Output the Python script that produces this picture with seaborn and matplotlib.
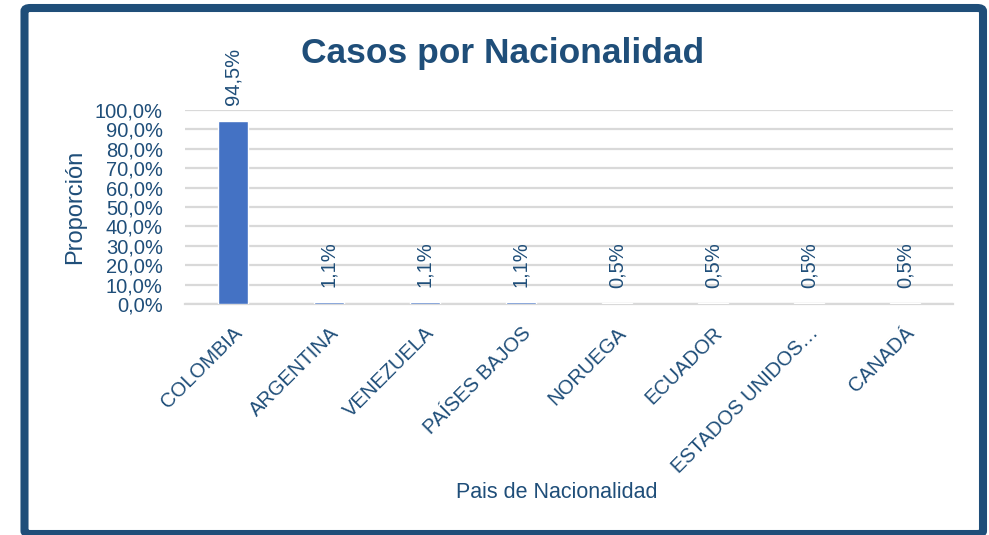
import matplotlib
matplotlib.use("Agg")
import matplotlib.pyplot as plt
import seaborn as sns
import pandas as pd
from matplotlib.patches import FancyBboxPatch

# data
paises = ["COLOMBIA", "ARGENTINA", "VENEZUELA", "PAÍSES BAJOS", "NORUEGA",
          "ECUADOR", "ESTADOS UNIDOS…", "CANADÁ"]
proporcion = [94.5, 1.1, 1.1, 1.1, 0.5, 0.5, 0.5, 0.5]
yticks = [0, 10, 20, 30, 40, 50, 60, 70, 80, 90, 100]

azul = "#1F4E79"
barra = "#4472C4"

sns.set_style("white")
plt.rcParams["font.family"] = ["Liberation Sans", "DejaVu Sans"]

df = pd.DataFrame({"pais": paises, "prop": proporcion})

fig = plt.figure(figsize=(9.89, 5.35), dpi=100)
ax = fig.add_axes([185 / 989, 1 - 304 / 535, 768 / 989, 194 / 535])

sns.barplot(data=df, x="pais", y="prop", color=barra, saturation=1, width=0.31, ax=ax, zorder=3)

ax.set_ylim(0, 100)
ax.set_yticks(yticks)
ax.set_yticklabels([f"{v:.1f}%".replace(".", ",") for v in yticks], fontsize=14.5, color=azul)
ax.grid(axis="y", color="#D9D9D9", linewidth=1.6, zorder=0)
ax.set_axisbelow(True)
for s in ["top", "right", "left"]:
    ax.spines[s].set_visible(False)
ax.spines["bottom"].set_color("#D9D9D9")
ax.spines["bottom"].set_linewidth(1.6)
ax.tick_params(axis="y", length=0, pad=16)

ax.set_xticks(range(len(paises)))
ax.set_xticklabels(paises, rotation=45, ha="right", rotation_mode="anchor", fontsize=14.5, color=azul)
ax.tick_params(axis="x", length=0, pad=14)

# etiquetas de datos
for i, v in enumerate(proporcion):
    ax.annotate(f"{v:.1f}%".replace(".", ","), (i, v), xytext=(0, 11), textcoords="offset points",
                rotation=90, ha="center", va="bottom", fontsize=14.5, color=azul)

ax.set_ylabel("Proporción", fontsize=17, color=azul)
ax.yaxis.set_label_coords(-(185 - 86) / 768, 0.5)
ax.set_xlabel("")
fig.text(557 / 989, 1 - 493 / 535, "Pais de Nacionalidad", ha="center", va="center",
         fontsize=15.5, color=azul)
fig.text(503 / 989, 1 - 53 / 535, "Casos por Nacionalidad", ha="center", va="center",
         fontsize=25.5, fontweight="bold", color=azul)

# marco
marco = FancyBboxPatch((24.5 / 989, 1 - 534 / 535), (983 - 24.5) / 989, (534 - 8) / 535,
                       boxstyle="round,pad=0,rounding_size=0.006", transform=fig.transFigure,
                       fill=False, edgecolor=azul, linewidth=5.8, clip_on=False)
fig.patches.append(marco)

fig.savefig("out.png", dpi=100, facecolor="white")
